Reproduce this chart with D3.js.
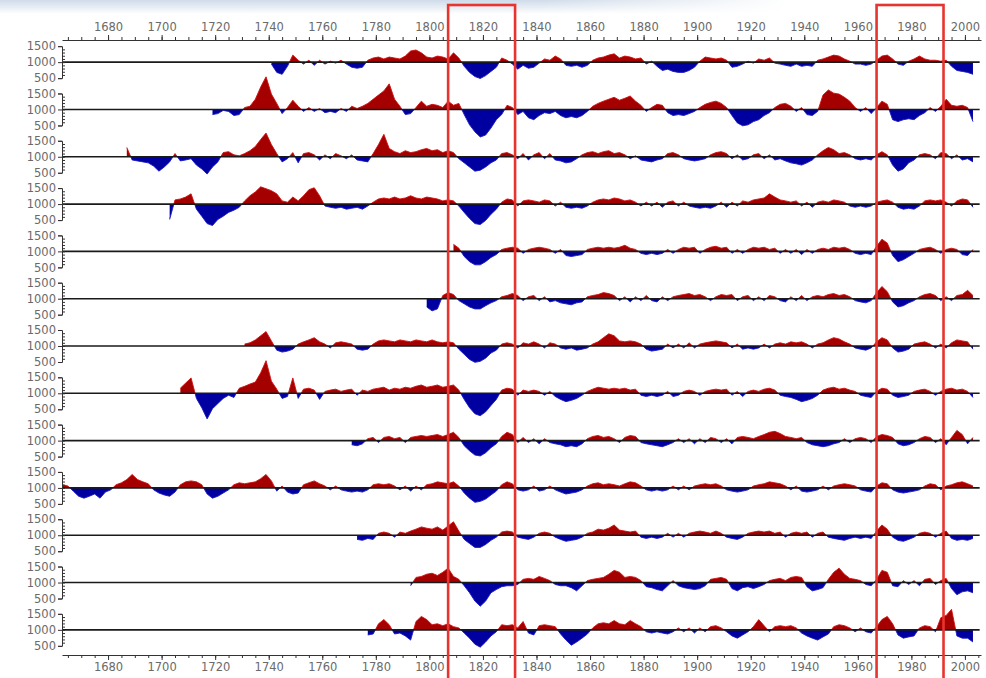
<!DOCTYPE html>
<html>
<head>
<meta charset="utf-8">
<script src="https://cdn.jsdelivr.net/npm/d3@7"></script>
<style>
  body { margin: 0; background: #fff; }
  svg { display: block; }
</style>
</head>
<body>
<svg id="chart" width="986" height="678"></svg>
<script>
// Ring-width index chronologies (index, mean = 1000), two-year steps from each start year
const startYears = [1741, 1719, 1687, 1703, 1809, 1799, 1731, 1707, 1771, 1663, 1773, 1793, 1777];
const yearStep = 2;

const site01 = [940,680,620,870,1220,1060,940,1060,900,1060,
940,1030,970,1060,940,840,810,840,1060,1130,
1160,1100,1160,1130,1100,1190,1350,1380,1290,1160,
1130,1190,1160,1100,1290,1130,870,680,550,490,
580,710,840,1130,1060,940,780,900,810,840,
970,1100,1060,1190,1100,900,870,900,840,900,
1060,1130,1160,1220,1260,1130,1190,1160,1100,1130,
940,1030,870,740,780,710,680,680,740,840,
1030,1160,1130,1100,1130,1060,840,870,940,1030,
970,1100,1060,1130,970,940,900,870,940,870,
900,870,1060,1100,1160,1220,1190,1100,1030,940,
940,900,940,1060,1190,1220,1100,940,900,1030,
1100,1190,1100,1060,1060,1030,1060,870,740,710,
680,620];

const site02 = [840,870,970,940,810,840,1060,1100,1320,1700,
2020,1480,1190,870,1060,1290,1100,940,1060,940,
1030,900,940,900,1030,940,1100,1030,1100,1190,
1320,1450,1580,1800,1320,1100,840,870,1060,1260,
1100,1160,1130,1060,1260,1130,1190,840,520,300,
140,200,420,680,840,1130,1060,840,940,740,
680,810,900,870,940,810,740,780,740,810,
940,1100,1190,1260,1320,1380,1290,1350,1420,1260,
1130,940,1060,1160,1130,900,810,840,810,870,
940,1060,1160,1220,1260,1190,1060,810,580,490,
520,620,680,810,900,1060,1160,1190,1100,940,
1060,840,810,940,1450,1610,1510,1480,1380,1260,
1060,940,1060,870,1060,1260,1160,680,620,680,
710,680,810,900,1060,940,1100,1320,1130,1100,
1130,1060,620];

const site03 = [1290,900,870,840,810,710,550,680,840,1100,
870,900,940,740,620,460,680,840,1130,1160,
1060,1030,1100,1190,1320,1540,1740,1380,1100,840,
940,1130,810,1100,1130,1060,900,1060,940,1100,
1030,940,1060,900,870,840,1100,1380,1700,1260,
1160,1100,1190,1130,1160,1220,1260,1190,1220,1130,
1190,1130,940,810,680,550,580,680,810,900,
1100,1130,1060,940,1100,900,1060,1130,940,1100,
900,870,810,840,940,1060,1130,1160,1100,1160,
1190,1100,1130,1060,940,1030,900,870,840,900,
940,1100,1130,1060,940,900,870,900,940,1060,
1130,1160,1100,940,1060,900,940,1060,1100,940,
1060,900,940,870,810,780,740,810,900,1060,
1190,1290,1220,1100,1130,1060,940,900,940,900,
1060,1160,1060,740,550,620,810,900,1060,1100,
1060,940,1130,1100,940,1060,900,940,840];

const site04 = [520,1130,1160,1220,1320,840,620,390,330,520,
620,740,810,900,1100,1260,1380,1540,1480,1420,
1320,1100,1060,1220,1100,1260,1450,1510,1260,940,
900,870,900,840,870,900,840,940,1060,1160,
1190,1160,1220,1160,1190,1260,1190,1160,1220,1190,
1160,1100,1130,1100,940,740,550,390,360,490,
680,840,1060,1160,1130,940,1100,1130,1100,1060,
1130,1100,940,1060,900,870,900,870,940,1060,
1130,1160,1130,1190,1160,1100,1130,1060,940,1060,
940,1060,900,1060,1100,940,1060,940,900,870,
900,870,940,1060,900,1060,940,1100,1060,1130,
1160,1190,1320,1220,1130,1100,1060,1100,940,1060,
900,1060,1100,1060,1130,1100,1060,940,900,940,
900,940,1060,1100,1130,1060,900,840,870,840,
940,1100,1130,1100,1130,1060,940,1100,1160,1130,
900];

const site05 = [1220,1100,840,680,580,580,680,810,900,1060,
1100,1130,1100,940,1060,1100,1130,1100,1060,940,
1060,870,840,870,900,1060,1100,1130,1100,1130,
1100,1130,1190,1100,1060,940,900,940,900,940,
1060,940,1060,1130,1100,1130,940,1060,1130,1160,
1100,1130,940,1060,940,1060,1130,1100,1130,1060,
1100,940,1060,940,1060,900,1060,940,1060,1100,
1060,1130,1100,1130,1060,940,900,940,900,1160,
1380,1260,870,680,740,840,940,1060,1100,1130,
1060,940,1060,1100,1060,900,870,1060];

const site06 = [740,620,680,1100,1190,1130,940,840,740,680,
680,780,870,940,1060,1100,1160,1100,940,1060,
1100,940,1060,900,940,870,840,810,870,900,
1060,1100,1130,1190,1160,1100,940,1060,900,1060,
940,1100,940,900,1060,940,1060,1100,1130,1160,
1100,1130,1060,940,1060,1130,1100,1130,940,1060,
1100,940,1060,940,1100,1060,940,900,1060,940,
1100,940,1060,1100,1060,1130,1160,1100,1130,1060,
940,900,870,940,1190,1380,1220,900,740,780,
870,940,1060,1130,1160,1100,940,1060,940,1100,
1130,1260,1100];

const site07 = [1060,1100,1190,1320,1450,1160,870,810,840,900,
1060,1130,1190,1260,1130,1060,940,1100,1130,1100,
1060,900,870,900,1060,1160,1190,1160,1130,1190,
1160,1130,1190,1160,1130,1190,1130,1100,1130,1100,
900,740,580,490,520,620,780,870,1060,1100,
1060,940,1100,1060,1130,1060,940,1100,1060,940,
900,940,870,900,940,1060,1130,1260,1380,1320,
1160,1130,1160,1130,1060,900,840,870,900,1060,
940,1060,940,1100,940,1060,1100,1130,1160,1130,
1100,940,1060,900,940,900,940,1060,940,1060,
1100,1060,1130,1100,1130,1060,940,1060,1100,1190,
1260,1220,1130,1060,940,900,870,940,1130,1260,
1190,940,810,840,900,1060,1100,1130,1060,940,
1060,940,1100,1190,1160,1130,900];

const site08 = [1160,1320,1480,840,550,200,520,680,840,940,
870,1160,1220,1290,1350,1640,2020,1380,1130,840,
900,1480,840,1130,1160,1100,810,1060,1100,1130,
1060,1100,1130,940,1100,1060,1130,1160,1190,1100,
1160,1130,1190,1160,1220,1260,1190,1220,1260,1190,
1220,1260,1100,810,550,360,300,420,620,810,
1100,1160,1130,940,1100,1060,1100,1060,940,1060,
900,810,740,780,840,940,1060,1130,1190,1160,
1130,1160,1130,1160,1100,1130,940,900,940,900,
940,1060,900,940,1060,1100,1060,940,1060,1100,
1130,1100,1130,940,1060,900,1060,1100,1060,1130,
1160,1100,940,900,870,810,740,780,840,940,
1100,1160,1190,1130,1160,1100,1060,940,900,870,
1060,1160,1130,940,870,900,940,1060,1100,1130,
1060,940,1060,1130,1160,1100,1130,1060,870];

const site09 = [870,840,900,1060,1100,940,1100,1130,1060,1100,
940,1100,1130,1160,1130,1160,1190,1130,1190,1260,
1100,840,680,550,520,620,780,900,1130,1260,
1190,940,1100,940,1060,900,1060,940,900,870,
810,840,810,900,1060,1130,1160,1100,1130,1060,
940,1100,1160,1130,940,900,870,840,810,870,
940,1060,940,1060,900,1060,940,1100,1060,940,
1060,900,1100,1130,1100,1060,1130,1190,1260,1290,
1220,1130,1100,1060,1100,940,870,840,810,840,
900,940,1060,940,1060,1100,1060,940,1130,1190,
1160,1100,900,840,870,940,1060,1130,1100,940,
1060,870,1100,1320,1190,900,1100];

const site10 = [1100,1060,900,740,680,740,810,680,870,940,
1100,1160,1260,1420,1260,1190,1130,940,840,780,
740,870,1100,1190,1220,1190,1100,810,680,740,
840,940,1100,1160,1130,1160,1190,1290,1420,1220,
900,1060,870,810,840,1100,1160,1220,1130,1060,
940,1060,940,900,870,900,870,940,1100,1130,
1100,1130,1060,940,1060,900,1060,940,1100,1130,
1190,1160,1130,1190,1060,840,680,550,580,650,
780,900,1100,1190,1130,940,900,940,1060,900,
940,1060,940,870,810,840,870,940,1060,1130,
1160,1100,1130,1100,1060,1130,1190,1160,1060,940,
900,940,900,940,1060,940,1060,940,1060,1100,
1130,1100,1130,1060,940,900,870,900,940,1060,
1100,1130,1190,1160,1130,1060,940,1060,900,870,
900,940,1060,940,1060,1100,1130,1100,1060,940,
900,870,1060,1160,1130,940,870,840,870,900,
940,1060,1130,1100,940,1060,1100,1160,1190,1130,
1060];

const site11 = [870,840,900,870,1060,1100,1060,940,1100,1060,
1130,1190,1260,1220,1190,1260,1160,1290,1420,1130,
870,740,620,620,710,840,940,1100,1130,1100,
940,900,870,940,1060,1100,1060,940,870,810,
840,870,940,1060,1100,1190,1160,1220,1320,1160,
1130,1100,1130,940,900,940,900,940,1060,940,
1060,940,1060,1100,1130,1100,1060,1130,1060,940,
900,870,940,1060,1100,1130,1100,1130,1060,1100,
940,1060,1100,1060,1100,940,1060,1100,940,900,
870,840,900,940,900,940,900,1130,1320,1190,
940,840,810,870,940,1060,1100,1060,940,1060,
1130,900,840,870,840,900];

const site12 = [900,1160,1190,1260,1290,1220,1320,1450,1190,1100,
900,680,420,260,420,680,780,870,900,900,
940,1100,1130,1100,1190,1130,1060,940,900,900,
840,740,900,1060,1100,1130,1160,1260,1380,1320,
1160,1190,1160,1060,870,840,780,740,900,1060,
900,840,810,780,810,900,1100,1130,1160,1100,
810,740,840,870,810,870,940,1060,1100,1130,
1060,1160,1190,1160,870,740,780,840,1100,1320,
1450,1260,1130,1100,1060,940,900,1100,1380,1320,
900,870,1060,940,1060,900,1100,1130,940,1060,
1130,810,620,710,740,680];

const site13 = [840,870,1190,1320,1160,870,900,810,680,1260,
1420,1320,1160,1190,1130,1190,1100,1060,900,740,
550,460,620,810,940,1160,1130,1160,1060,1260,
900,840,1130,1160,1130,1100,870,680,520,620,
740,870,1060,1190,1220,1190,1290,1190,1160,1290,
1190,1100,940,900,940,900,870,940,1060,940,
1060,900,1060,940,1100,1130,1060,940,810,740,
840,940,1100,1320,1130,940,1100,1130,1100,1130,
1060,900,810,740,680,780,870,1100,1160,1130,
1060,940,1060,940,900,1100,1320,1420,1190,840,
740,780,810,1060,1130,1100,940,1380,1450,1640,
810,740,740,620];

const seriesValues = [site01, site02, site03, site04, site05, site06, site07,
  site08, site09, site10, site11, site12, site13];

const yearTicks = [1680, 1700, 1720, 1740, 1760, 1780, 1800, 1820, 1840, 1860,
  1880, 1900, 1920, 1940, 1960, 1980, 2000];
const indexTicks = [500, 1000, 1500];
const highlightPeriods = [[1807, 1832], [1967, 1992]];

// ---- layout ----
const W = 986, H = 678;
const plotLeft = 62, plotRight = 981, plotTop = 40, plotBottom = 655;
const svg = d3.select("#chart");
const defs = svg.append("defs");

svg.append("rect").attr("width", W).attr("height", H).attr("fill", "#fff");

// soft tinted strip along the top edge
const gv = defs.append("linearGradient").attr("id", "topTint").attr("x1", 0).attr("y1", 0).attr("x2", 0).attr("y2", 1);
gv.append("stop").attr("offset", 0).attr("stop-color", "#cfdbea");
gv.append("stop").attr("offset", 1).attr("stop-color", "#ffffff");
const gh = defs.append("linearGradient").attr("id", "topFade").attr("x1", 0).attr("y1", 0).attr("x2", 1).attr("y2", 0);
gh.append("stop").attr("offset", 0).attr("stop-color", "#fff");
gh.append("stop").attr("offset", 0.55).attr("stop-color", "#fff");
gh.append("stop").attr("offset", 0.8).attr("stop-color", "#000");
defs.append("mask").attr("id", "topMask")
  .append("rect").attr("width", W).attr("height", 14).attr("fill", "url(#topFade)");
svg.append("rect").attr("width", W).attr("height", 14)
  .attr("fill", "url(#topTint)").attr("mask", "url(#topMask)");

const x = d3.scaleLinear().domain([1662.8, 2006]).range([plotLeft, plotRight]);
const rowBand = d3.scaleBand().domain(d3.range(seriesValues.length)).range([plotTop, plotBottom]);

const fontFamily = "'DejaVu Sans', Verdana, sans-serif";
const labelColor = "#6a6a6a";

function styleAxis(g) {
  g.selectAll("path.domain").attr("stroke", "#333").attr("stroke-width", 1);
  g.selectAll(".tick line").attr("stroke", "#333");
  g.selectAll(".tick text").attr("fill", labelColor)
    .style("font-family", fontFamily).style("font-size", "11.5px");
}

// ---- rows ----
seriesValues.forEach((vals, i) => {
  const base = rowBand(i) + rowBand.bandwidth() / 2 - 1.5;
  const y = d3.scaleLinear().domain([500, 1500]).range([base + 16, base - 16]);
  const data = vals.map((v, k) => ({ year: startYears[i] + k * yearStep, value: v }));

  const upId = "up" + i, dnId = "dn" + i;
  defs.append("clipPath").attr("id", upId)
    .append("rect").attr("x", 0).attr("y", 0).attr("width", W).attr("height", y(1000));
  defs.append("clipPath").attr("id", dnId)
    .append("rect").attr("x", 0).attr("y", y(1000)).attr("width", W).attr("height", H - y(1000));

  const area = d3.area().x(d => x(d.year)).y0(y(1000)).y1(d => y(d.value));
  const line = d3.line().x(d => x(d.year)).y(d => y(d.value));

  const row = svg.append("g").attr("class", "row");
  row.append("path").datum(data).attr("d", area)
    .attr("fill", "#a40000").attr("clip-path", `url(#${upId})`);
  row.append("path").datum(data).attr("d", line)
    .attr("fill", "none").attr("stroke", "#d01010").attr("stroke-width", 0.9)
    .attr("clip-path", `url(#${upId})`);
  row.append("path").datum(data).attr("d", area)
    .attr("fill", "#0000a0").attr("clip-path", `url(#${dnId})`);
  row.append("path").datum(data).attr("d", line)
    .attr("fill", "none").attr("stroke", "#1818c8").attr("stroke-width", 0.9)
    .attr("clip-path", `url(#${dnId})`);

  // 1000 reference line across the full time span
  row.append("line")
    .attr("x1", plotLeft).attr("x2", x(2005.5))
    .attr("y1", y(1000)).attr("y2", y(1000))
    .attr("stroke", "#1a1a1a").attr("stroke-width", 1.6);

  // index axis with minor ticks every 100
  const ax = row.append("g").attr("transform", `translate(${plotLeft},0)`)
    .call(d3.axisLeft(y).tickValues(indexTicks).tickSize(4).tickSizeOuter(4).tickPadding(2).tickFormat(d3.format("d")));
  styleAxis(ax);
  row.append("g").attr("transform", `translate(${plotLeft},0)`)
    .call(d3.axisRight(y).tickValues(d3.range(600, 1500, 100)).tickSize(3).tickFormat(""))
    .call(g => g.select("path.domain").remove())
    .selectAll("line").attr("stroke", "#333");
});

// ---- time axes, top and bottom ----
const minorYears = d3.range(1665, 2006, 5);
const topAxis = svg.append("g").attr("transform", `translate(0,${plotTop})`)
  .call(d3.axisTop(x).tickValues(yearTicks).tickSize(5).tickSizeOuter(0).tickPadding(4).tickFormat(d3.format("d")));
styleAxis(topAxis);
svg.append("g").attr("transform", `translate(0,${plotTop})`)
  .call(d3.axisTop(x).tickValues(minorYears).tickSize(3).tickFormat(""))
  .call(g => g.select("path.domain").remove())
  .selectAll("line").attr("stroke", "#333");

const bottomAxis = svg.append("g").attr("transform", `translate(0,${plotBottom})`)
  .call(d3.axisBottom(x).tickValues(yearTicks).tickSize(5).tickSizeOuter(0).tickPadding(3).tickFormat(d3.format("d")));
styleAxis(bottomAxis);
svg.append("g").attr("transform", `translate(0,${plotBottom})`)
  .call(d3.axisBottom(x).tickValues(minorYears).tickSize(3).tickFormat(""))
  .call(g => g.select("path.domain").remove())
  .selectAll("line").attr("stroke", "#333");

// ---- highlighted periods ----
svg.append("g").selectAll("rect").data(highlightPeriods).join("rect")
  .attr("x", d => x(d[0])).attr("width", d => x(d[1]) - x(d[0]))
  .attr("y", 5).attr("height", H)
  .attr("fill", "none").attr("stroke", "#e8342f").attr("stroke-width", 2.6);
</script>
</body>
</html>
